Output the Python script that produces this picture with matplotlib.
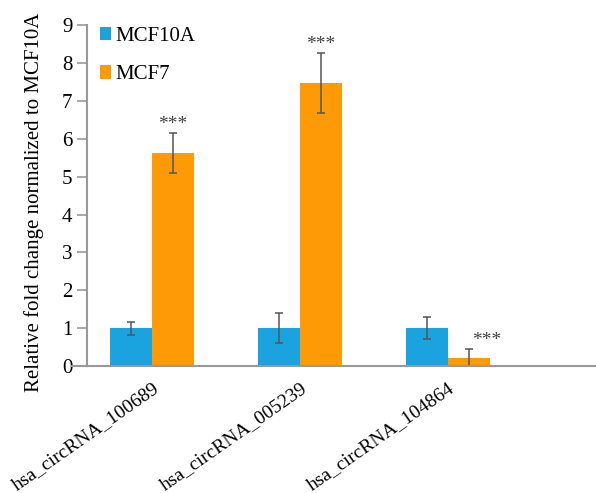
import matplotlib
matplotlib.use('Agg')
from matplotlib import pyplot as plt
import numpy as np

circrnas = ["hsa_circRNA_100689", "hsa_circRNA_005239", "hsa_circRNA_104864"]
mcf10a = [1.0, 1.0, 1.0]
mcf10a_err = [0.17, 0.4, 0.3]
mcf7 = [5.62, 7.47, 0.2]
mcf7_err = [0.53, 0.8, 0.25]
stars = ["***", "***", "***"]

plt.rcParams["font.family"] = ["Liberation Serif", "DejaVu Serif"]
fig = plt.figure(figsize=(5.96, 4.93), dpi=100)
ax = fig.add_axes([0.146, 0.2576, 0.854, 0.6914])

x = np.arange(len(circrnas))
w = 0.284
blue = "#1aa3df"
orange = "#fd9a05"
ekw = dict(ecolor="#555555", elinewidth=1.1, capsize=3, capthick=1.1)

ax.bar(x - w / 2, mcf10a, w, color=blue, label="MCF10A",
       yerr=mcf10a_err, error_kw=ekw)
ax.bar(x + w / 2, mcf7, w, color=orange, label="MCF7",
       yerr=mcf7_err, error_kw=ekw)

for i in range(len(circrnas)):
    top = mcf7[i] + mcf7_err[i]
    xs = x[i] + w / 2
    if i == 2:
        xs += 0.12
    ax.text(xs, top + 0.0, stars[i], ha="center", va="bottom",
            fontsize=14, color="#444444")

ax.set_xlim(-0.44, 3.0)
ax.set_ylim(0, 9)
ax.set_yticks(range(10))
ax.set_xticks(x)
ax.set_xticklabels(circrnas, rotation=35, ha="right", rotation_mode="anchor",
                   fontsize=14)
ax.tick_params(axis="x", length=0, pad=10)
ax.tick_params(axis="y", length=7, color="#999999", width=1.2, labelsize=15)
ax.set_ylabel("Relative fold change normalized to MCF10A", fontsize=15)
ax.yaxis.set_label_coords(-0.085, 0.48)

for s in ["top", "right", "bottom"]:
    ax.spines[s].set_visible(False)
ax.spines["left"].set_color("#999999")
ax.spines["left"].set_linewidth(1.5)
# baseline running a bit past the y axis
ax.plot([-0.03, 1.0], [0, 0], transform=ax.transAxes, color="#999999",
        lw=1.5, clip_on=False)

ax.legend(loc="upper left", frameon=False, fontsize=15, handlelength=0.5,
          handleheight=0.6, handletextpad=0.2, labelspacing=0.95,
          borderaxespad=0.0, bbox_to_anchor=(0.01, 1.02))

plt.savefig("out.png")
